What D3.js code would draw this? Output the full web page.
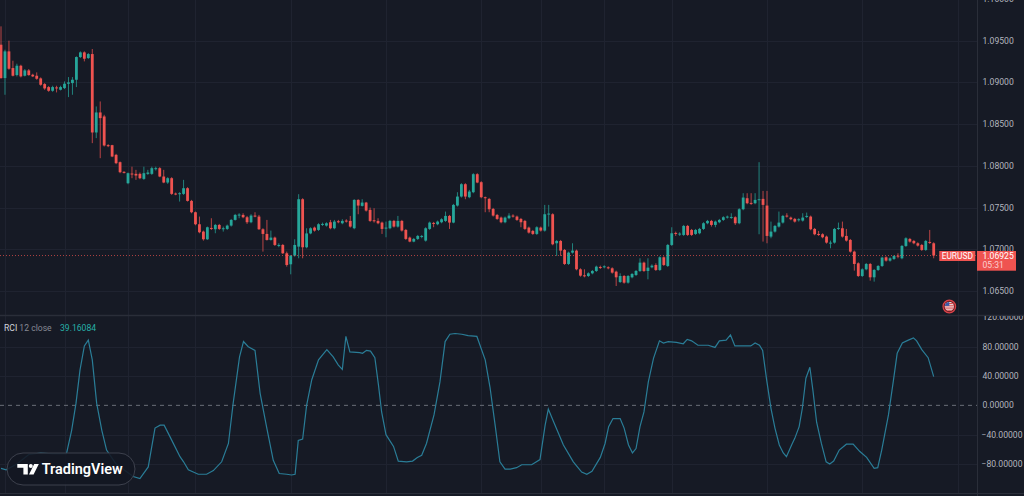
<!DOCTYPE html>
<html>
<head>
<meta charset="utf-8">
<script src="https://cdn.jsdelivr.net/npm/d3@7"></script>
<style>
  html, body { margin: 0; padding: 0; background: #161a25; overflow: hidden; }
  svg { display: block; font-family: Roboto, "Open Sans", sans-serif; }
</style>
</head>
<body>
<svg width="1024" height="496"></svg>
<script>
// EURUSD 1h candles (index 0 = leftmost bar)
var open = [
  1.09452,1.09052,1.09372,1.09172,1.09088,1.092,1.0908,1.09144,1.09092,1.0908,
  1.09048,1.0898,1.08944,1.089,1.0894,1.08912,1.08932,1.08984,1.08992,1.09032,
  1.09304,1.0936,1.09292,1.0934,1.084,1.0864,1.08592,1.08248,1.08248,1.08132,
  1.08044,1.07928,1.07792,1.07908,1.07904,1.07904,1.07844,1.07904,1.07904,1.0796,
  1.07972,1.07872,1.078,1.07852,1.07668,1.0766,1.07664,1.07732,1.0758,1.07444,
  1.073,1.07212,1.0712,1.07256,1.0724,1.07292,1.0724,1.07244,1.07284,1.07352,
  1.07404,1.07412,1.07384,1.07324,1.07404,1.07392,1.0724,1.07184,1.07112,1.0714,
  1.0704,1.07052,1.06952,1.0682,1.06924,1.07032,1.076,1.07024,1.0719,1.0726,
  1.07232,1.07292,1.07284,1.07324,1.07252,1.07336,1.07312,1.07344,1.0734,1.07252,
  1.07592,1.0752,1.0756,1.07472,1.07348,1.0734,1.0732,1.07248,1.07252,1.0734,
  1.07272,1.0734,1.07232,1.0714,1.07092,1.07124,1.07148,1.07104,1.07244,1.07316,
  1.073,1.07324,1.0734,1.074,1.0732,1.07524,1.07632,1.0778,1.07624,1.07684,
  1.079,1.07804,1.07624,1.07604,1.07484,1.07412,1.0738,1.07324,1.07372,1.07404,
  1.07392,1.07364,1.0734,1.0726,1.0722,1.07184,1.0726,1.07224,1.07416,1.0742,
  1.07072,1.071,1.06992,1.06824,1.0696,1.06984,1.0676,1.06688,1.0668,1.06712,
  1.0674,1.06788,1.06784,1.06784,1.06772,1.06732,1.06608,1.0668,1.066,1.06664,
  1.06692,1.0674,1.0684,1.0674,1.06784,1.06812,1.06752,1.06904,1.068,1.07052,
  1.07196,1.07176,1.07172,1.0728,1.07232,1.07184,1.07192,1.07244,1.07312,1.0734,
  1.07292,1.07324,1.07352,1.0738,1.07376,1.07384,1.07312,1.0748,1.07612,1.07556,
  1.07552,1.07588,1.07604,1.07524,1.07152,1.07212,1.07272,1.0732,1.07404,1.0738,
  1.07364,1.07348,1.07344,1.07388,1.07392,1.07244,1.07184,1.0718,1.07152,1.07068,
  1.0708,1.07244,1.07252,1.0716,1.07112,1.06972,1.06832,1.0668,1.0676,1.06824,
  1.06664,1.06752,1.068,1.06904,1.06864,1.06884,1.06924,1.06892,1.0704,1.07124,
  1.071,1.07072,1.07052,1.06992,1.07088,1.07072
];
var high = [
  1.09672,1.09392,1.0950,1.0926,1.09224,1.09212,1.0916,1.0916,1.09104,1.0912,
  1.0906,1.08992,1.08956,1.0896,1.0896,1.0896,1.09012,1.09064,1.09064,1.09312,
  1.09372,1.09372,1.09352,1.094,1.08712,1.08772,1.08612,1.0826,1.08252,1.08144,
  1.08052,1.07936,1.0792,1.0799,1.07952,1.0792,1.0799,1.07952,1.0799,1.0799,
  1.07984,1.07952,1.07864,1.07864,1.0768,1.07684,1.07832,1.07744,1.07592,1.07452,
  1.07392,1.07224,1.07272,1.07372,1.07304,1.07304,1.07272,1.07296,1.07364,1.07424,
  1.07432,1.07432,1.074,1.0742,1.07444,1.07412,1.07252,1.07352,1.07224,1.07152,
  1.07072,1.07064,1.06972,1.06932,1.0712,1.0766,1.07612,1.07252,1.07264,1.07272,
  1.07312,1.0732,1.07324,1.07352,1.07352,1.07352,1.0736,1.0736,1.074,1.076,
  1.076,1.076,1.07568,1.075,1.07492,1.07372,1.07332,1.07332,1.07352,1.07352,
  1.074,1.07352,1.07244,1.07152,1.07136,1.07172,1.07172,1.07264,1.07332,1.07328,
  1.07344,1.07372,1.07452,1.07412,1.07544,1.07684,1.07792,1.07792,1.07712,1.07912,
  1.07912,1.07816,1.07632,1.07616,1.07496,1.07424,1.07392,1.07392,1.07432,1.0742,
  1.07404,1.07376,1.07352,1.07272,1.07232,1.07276,1.07272,1.07532,1.07532,1.07432,
  1.07112,1.07112,1.07004,1.06972,1.07072,1.06996,1.06772,1.0676,1.06724,1.06752,
  1.06804,1.06804,1.06808,1.06796,1.06784,1.06744,1.06712,1.06692,1.06692,1.06716,
  1.06752,1.06892,1.06852,1.06892,1.0682,1.06832,1.06916,1.06916,1.07064,1.07264,
  1.07212,1.07204,1.07292,1.07292,1.07244,1.07244,1.07256,1.07324,1.07352,1.07352,
  1.07344,1.07364,1.07396,1.07404,1.07432,1.07396,1.07492,1.07672,1.07672,1.07672,
  1.07672,1.08044,1.077,1.077,1.07332,1.07292,1.07452,1.07412,1.07432,1.07392,
  1.07376,1.07372,1.07432,1.0744,1.07404,1.07256,1.0722,1.07192,1.07164,1.07104,
  1.07256,1.0732,1.07332,1.07244,1.07124,1.06984,1.06844,1.06772,1.06836,1.06836,
  1.06764,1.06812,1.06912,1.06916,1.06904,1.06932,1.06952,1.07052,1.07144,1.07136,
  1.07112,1.07084,1.07064,1.07112,1.07232,1.07084
];
var low = [
  1.09044,1.08852,1.09152,1.09072,1.09072,1.0906,1.09072,1.0908,1.09064,1.09032,
  1.0896,1.08912,1.08888,1.08888,1.0888,1.08904,1.0892,1.08824,1.08852,1.08944,
  1.09292,1.09252,1.0928,1.08272,1.08332,1.08092,1.08232,1.08224,1.08104,1.0802,
  1.07912,1.07908,1.0778,1.07852,1.07832,1.0784,1.07832,1.07892,1.07892,1.07944,
  1.07864,1.07792,1.07784,1.07652,1.07648,1.07572,1.07652,1.07572,1.07432,1.07288,
  1.07192,1.07104,1.07112,1.07232,1.07192,1.07232,1.07212,1.07232,1.07272,1.07344,
  1.07372,1.07372,1.07304,1.07312,1.07384,1.07232,1.06972,1.07104,1.07104,1.0704,
  1.07024,1.06944,1.06792,1.067,1.06912,1.06892,1.06892,1.07012,1.0718,1.07212,
  1.0722,1.0728,1.07272,1.0724,1.0724,1.07312,1.073,1.0732,1.0726,1.0724,
  1.0742,1.07512,1.07452,1.07328,1.0732,1.073,1.07184,1.07144,1.0724,1.0726,
  1.0726,1.07212,1.07112,1.07084,1.07084,1.07112,1.07132,1.07092,1.07232,1.07264,
  1.07288,1.07312,1.07328,1.07244,1.07312,1.07512,1.0762,1.076,1.07612,1.07672,
  1.07792,1.07612,1.07444,1.07444,1.07392,1.07352,1.07312,1.07312,1.0736,1.0738,
  1.0734,1.07264,1.07232,1.07188,1.07172,1.07172,1.07212,1.07212,1.07272,1.07048,
  1.0692,1.0692,1.06812,1.06812,1.06948,1.06748,1.06672,1.06664,1.06668,1.067,
  1.06728,1.06764,1.06772,1.0676,1.06708,1.0656,1.06596,1.06588,1.06588,1.06652,
  1.0668,1.06728,1.06728,1.0664,1.06772,1.0674,1.0674,1.068,1.06788,1.0704,
  1.0716,1.0716,1.0716,1.0716,1.0716,1.07172,1.0718,1.07232,1.073,1.07272,
  1.07264,1.07312,1.0734,1.07368,1.07364,1.07292,1.073,1.07468,1.0754,1.07532,
  1.0754,1.0718,1.07092,1.07072,1.07132,1.072,1.0726,1.07308,1.0738,1.07348,
  1.0732,1.07332,1.07332,1.07376,1.07228,1.07168,1.0716,1.07132,1.07068,1.07012,
  1.07068,1.07232,1.0714,1.07092,1.0696,1.06744,1.06668,1.06668,1.06748,1.06624,
  1.06612,1.0674,1.06788,1.06852,1.06852,1.06872,1.06892,1.0688,1.07028,1.0708,
  1.0706,1.07032,1.0698,1.0698,1.07064,1.06892
];
var close = [
  1.09052,1.09372,1.09164,1.0908,1.092,1.09072,1.09144,1.09088,1.09072,1.09044,
  1.08972,1.08928,1.089,1.08944,1.08928,1.08944,1.08984,1.09,1.09032,1.09304,
  1.0936,1.09284,1.0934,1.084,1.0864,1.08572,1.08244,1.08236,1.08112,1.08032,
  1.07924,1.07916,1.07912,1.07896,1.07884,1.07852,1.07912,1.0792,1.07972,1.07972,
  1.07872,1.078,1.07852,1.07664,1.07656,1.07672,1.07732,1.0758,1.07444,1.073,
  1.07204,1.0712,1.07264,1.07244,1.07292,1.07244,1.07252,1.07284,1.07352,1.07412,
  1.07416,1.07384,1.07324,1.07404,1.07392,1.0724,1.07184,1.07112,1.0714,1.07052,
  1.07052,1.06952,1.06812,1.06924,1.07052,1.076,1.07024,1.0719,1.07252,1.07224,
  1.073,1.07304,1.07312,1.07252,1.07332,1.07324,1.0734,1.07332,1.07272,1.07592,
  1.07524,1.0756,1.07464,1.0734,1.07336,1.07312,1.07244,1.0726,1.0734,1.07272,
  1.0734,1.07224,1.07124,1.07092,1.07124,1.0716,1.0716,1.07252,1.0732,1.07304,
  1.07332,1.0736,1.074,1.0732,1.07532,1.07632,1.0778,1.07632,1.07692,1.079,
  1.078,1.07624,1.07612,1.0748,1.07404,1.07364,1.07324,1.0738,1.07404,1.07392,
  1.07352,1.07324,1.07244,1.072,1.07184,1.07264,1.07224,1.0742,1.07428,1.0706,
  1.071,1.06984,1.06824,1.0696,1.06984,1.0676,1.06684,1.06676,1.06712,1.0674,
  1.06792,1.06776,1.06796,1.06772,1.0672,1.06664,1.0668,1.066,1.0668,1.06704,
  1.0674,1.0684,1.0674,1.0678,1.06804,1.06752,1.06904,1.06812,1.07052,1.07192,
  1.07184,1.07188,1.0728,1.07172,1.07172,1.07232,1.07244,1.07312,1.0734,1.07292,
  1.07332,1.07352,1.07384,1.07392,1.07388,1.07312,1.0748,1.0762,1.07552,1.07544,
  1.07592,1.076,1.07532,1.0716,1.07212,1.0728,1.0732,1.074,1.07392,1.0736,
  1.07332,1.0736,1.0738,1.074,1.0724,1.0718,1.07172,1.07144,1.0708,1.0708,
  1.07244,1.07256,1.07152,1.07104,1.06972,1.06824,1.0668,1.0676,1.06824,1.06664,
  1.06752,1.068,1.069,1.06864,1.06892,1.0692,1.06912,1.0704,1.07132,1.07092,
  1.07072,1.07044,1.06992,1.071,1.07076,1.06925
];

// RCI(12) line, vertices: bar position and value
var rciBar = [0,1.3,4,7,10,13,16.5,17.8,18.9,19.9,21,22,23,24.1,25.4,26.6,29,33.3,35,37.1,38.8,
  40.1,41.1,42.6,45.1,46,47.2,49.7,51.8,53.5,55.6,57.3,58.5,60.1,61.1,62.3,64,65.3,66.9,68.6,70.1,
  72,73.2,74.1,74.9,76,77,78.3,80,82.1,83.7,85,86,86.9,87.9,90.4,91.1,92.1,93.1,94.2,95.1,
  95.9,97,98.9,100.1,102.2,103.7,104.9,106,107.2,109.1,110.6,111.9,113.1,114.4,116.1,117.7,119.9,122,123.2,124.5,
  125.7,127,128.3,129.9,131.2,133.7,135.8,137.1,137.9,139.2,141.7,144.2,146.3,147.6,148.9,151,152.2,153.1,154.2,156,
  157,158.1,159.1,160,161,162,163.1,164.4,165.9,166.9,168.1,170.2,171.9,172.9,174,175.6,178.2,179.9,181,182.7,
  183.8,184.9,186.6,188.9,190,191.1,191.9,192.9,194,195,196.1,197.1,197.9,199.2,200,201.1,201.9,202.8,203.8,204.6,
  205.5,206.7,207.9,208.8,209.8,211.2,213,214.7,216.4,218.1,220,220.9,221.9,223.6,224.8,225.8,227.1,228.6,229.9,230.7,
  232,233.6,235];
var rciVal = [-86,-88,-80,-67,-65,-66,-66,-34,3,48,81,89,62,3,-34,-61,-80,-97,-100,-84,-31,
  -27,-27,-43,-70,-77,-88,-94,-94,-89,-77,-52,3,66,87,80,75,16,-29,-75,-93,
  -94,-95,-94,-48,-46,0,35,62,76,66,55,49,94,73,72,71,75,74,65,28,
  -9,-40,-56,-76,-77,-76,-71,-68,-52,-13,32,87,97,98,97,95,94,62,25,-27,
  -77,-87,-87,-85,-81,-81,-74,-27,-5,-22,-54,-77,-91,-94,-90,-71,-52,-29,-18,-18,
  -31,-54,-65,-59,-29,-9,32,64,88,85,87,86,84,90,88,82,82,79,88,89,
  96,81,81,81,85,82,75,35,-4,-31,-54,-65,-70,-54,-45,-29,-4,37,52,19,
  -23,-52,-77,-80,-76,-61,-53,-53,-63,-71,-86,-85,-61,-13,32,71,85,89,92,88,
  76,65,39.16084];

var priceTicks = [1.065, 1.07, 1.075, 1.08, 1.085, 1.09, 1.095, 1.10];
var rciTicks = [-80, -40, 0, 40, 80, 120];
var timeGridBars = [1, 16, 32, 49, 73, 97, 121, 136, 152, 169, 193, 217, 241];
var lastPrice = 1.06925, countdown = "05:31", symbol = "EURUSD";

var svg = d3.select("svg"),
    width = +svg.attr("width"),
    height = +svg.attr("height"),
    axisX = 977,
    upColor = "#26a69a",
    downColor = "#ef5350",
    gridColor = "#1f2330",
    textColor = "#b2b5be";

var x = d3.scaleLinear().domain([0, 235]).range([1, 933.7]),
    y = d3.scaleLinear().domain([1.065, 1.095]).range([291, 40.7]),
    yr = d3.scaleLinear().domain([-80, 80]).range([464, 346.7]);

svg.append("rect").attr("width", width).attr("height", height).attr("fill", "#161a25");

var defs = svg.append("defs");
defs.append("clipPath").attr("id", "pricePane").append("rect")
  .attr("x", 0).attr("y", 0).attr("width", axisX).attr("height", 315);
defs.append("clipPath").attr("id", "priceAxis").append("rect")
  .attr("x", axisX).attr("y", 0).attr("width", width - axisX).attr("height", 315);
defs.append("clipPath").attr("id", "rciPane").append("rect")
  .attr("x", 0).attr("y", 316).attr("width", axisX).attr("height", 177);
defs.append("clipPath").attr("id", "rciAxis").append("rect")
  .attr("x", axisX).attr("y", 316).attr("width", width - axisX).attr("height", 177);

// grid
var grid = svg.append("g").attr("stroke", gridColor).attr("stroke-width", 1);
grid.selectAll(".vgrid").data(timeGridBars).enter().append("line")
  .attr("x1", function(d) { return Math.round(x(d)) + 0.5; })
  .attr("x2", function(d) { return Math.round(x(d)) + 0.5; })
  .attr("y1", 0).attr("y2", 493);
grid.selectAll(".hgrid").data(priceTicks).enter().append("line")
  .attr("x1", 0).attr("x2", axisX)
  .attr("y1", function(d) { return Math.round(y(d)) + 0.5; })
  .attr("y2", function(d) { return Math.round(y(d)) + 0.5; });
grid.selectAll(".rgrid").data(rciTicks.filter(function(d) { return d !== 0 && d !== 120; })).enter().append("line")
  .attr("x1", 0).attr("x2", axisX)
  .attr("y1", function(d) { return Math.round(yr(d)) + 0.5; })
  .attr("y2", function(d) { return Math.round(yr(d)) + 0.5; });

// pane separators and axis border
svg.append("line").attr("x1", 0).attr("x2", width).attr("y1", 315.5).attr("y2", 315.5)
  .attr("stroke", "#2a2e39").attr("stroke-width", 1.5);
svg.append("line").attr("x1", 0).attr("x2", width).attr("y1", 493.5).attr("y2", 493.5)
  .attr("stroke", "#2a2e39");
svg.append("line").attr("x1", axisX + 0.5).attr("x2", axisX + 0.5).attr("y1", 0).attr("y2", height)
  .attr("stroke", "#2a2e39");

// candles
var bars = d3.range(open.length);
var candles = svg.append("g").attr("clip-path", "url(#pricePane)");
var candle = candles.selectAll(".candle").data(bars).enter().append("g").attr("class", "candle");
candle.append("line")
  .attr("x1", function(i) { return x(i); }).attr("x2", function(i) { return x(i); })
  .attr("y1", function(i) { return y(high[i]); }).attr("y2", function(i) { return y(low[i]); })
  .attr("stroke", function(i) { return close[i] >= open[i] ? upColor : downColor; })
  .attr("stroke-opacity", 0.75).attr("stroke-width", 1);
candle.append("rect")
  .attr("x", function(i) { return x(i) - 1.4; })
  .attr("width", 2.8)
  .attr("y", function(i) { return y(Math.max(open[i], close[i])); })
  .attr("height", function(i) { return Math.max(1, Math.abs(y(open[i]) - y(close[i]))); })
  .attr("fill", function(i) { return close[i] >= open[i] ? upColor : downColor; });

// last price line
svg.append("line").attr("x1", 0).attr("x2", axisX)
  .attr("y1", y(lastPrice)).attr("y2", y(lastPrice))
  .attr("stroke", downColor).attr("stroke-opacity", 0.7).attr("stroke-dasharray", "1,2");

// price axis labels
svg.append("g").attr("clip-path", "url(#priceAxis)")
  .selectAll("text").data(priceTicks).enter().append("text")
  .attr("x", 982.5).attr("y", function(d) { return y(d); })
  .attr("dy", "0.35em").attr("font-size", 8.6).attr("fill", textColor)
  .text(function(d) { return d3.format(".5f")(d); });

// last price labels
var ly = y(lastPrice);
svg.append("rect").attr("x", 939.3).attr("y", 251).attr("width", 36).attr("height", 10)
  .attr("fill", downColor);
svg.append("text").attr("x", 957.3).attr("y", 256).attr("dy", "0.35em")
  .attr("text-anchor", "middle").attr("font-size", 8.4).attr("fill", "#ffffff").text(symbol);
svg.append("rect").attr("x", axisX).attr("y", 251).attr("width", 39).attr("height", 19.7)
  .attr("fill", downColor);
svg.append("text").attr("x", 982.5).attr("y", ly).attr("dy", "0.35em")
  .attr("font-size", 8.6).attr("fill", "#ffffff").text(d3.format(".5f")(lastPrice));
svg.append("text").attr("x", 982.5).attr("y", 265).attr("dy", "0.35em")
  .attr("font-size", 8.6).attr("fill", "#fbd0d0").text(countdown);

// economic event flag
var flag = svg.append("g").attr("transform", "translate(949.3,306.5)");
flag.append("circle").attr("r", 6.3).attr("fill", "#7a1f24").attr("stroke", "#d9434a").attr("stroke-width", 1.2);
flag.append("clipPath").attr("id", "flagClip").append("circle").attr("r", 4.6);
var fl = flag.append("g").attr("clip-path", "url(#flagClip)");
fl.append("rect").attr("x", -5).attr("y", -5).attr("width", 10).attr("height", 10).attr("fill", "#f4f4f4");
[-3.4, -1.2, 1, 3.2].forEach(function(s) {
  fl.append("rect").attr("x", -5).attr("y", s).attr("width", 10).attr("height", 1.1).attr("fill", "#d63a3f");
});
fl.append("rect").attr("x", -5).attr("y", -5).attr("width", 5).attr("height", 4.4).attr("fill", "#3b5aa8");

// RCI pane
var rciPane = svg.append("g").attr("clip-path", "url(#rciPane)");
rciPane.append("line").attr("x1", 0).attr("x2", axisX)
  .attr("y1", yr(0)).attr("y2", yr(0))
  .attr("stroke", "#6a6d78").attr("stroke-dasharray", "4,4").attr("stroke-width", 1);
var rciLine = d3.line()
  .x(function(d, i) { return x(rciBar[i]); })
  .y(function(d) { return yr(d); });
rciPane.append("path").datum(rciVal).attr("d", rciLine)
  .attr("fill", "none").attr("stroke", "#2a7d97").attr("stroke-width", 1.2);

svg.append("g").attr("clip-path", "url(#rciAxis)")
  .selectAll("text").data(rciTicks).enter().append("text")
  .attr("x", function(d) { return d < 0 ? 981.5 : 982.5; })
  .attr("y", function(d) { return yr(d); })
  .attr("dy", "0.35em").attr("font-size", 8.6).attr("fill", textColor)
  .text(function(d) { return d3.format(".5f")(d); });

// RCI legend
var legend = svg.append("text").attr("x", 4).attr("y", 327.5).attr("dy", "0.35em").attr("font-size", 8.6);
legend.append("tspan").attr("fill", "#d1d4dc").text("RCI");
legend.append("tspan").attr("fill", "#868993").text(" 12 close");
svg.append("text").attr("x", 60).attr("y", 327.5).attr("dy", "0.35em").attr("font-size", 8.6)
  .attr("fill", "#26b0a8").text(d3.format(".5f")(rciVal[rciVal.length - 1]));

// TradingView watermark
var tv = svg.append("g");
tv.append("rect").attr("x", 7).attr("y", 453).attr("width", 128).attr("height", 32).attr("rx", 16)
  .attr("fill", "#131722").attr("fill-opacity", 0.88).attr("stroke", "#3d414d").attr("stroke-width", 1);
tv.append("path").attr("d", "M17.3,464 H27.8 V474.5 H23.4 V467.8 H17.3 Z").attr("fill", "#ffffff");
tv.append("circle").attr("cx", 30.8).attr("cy", 466).attr("r", 2).attr("fill", "#ffffff");
tv.append("path").attr("d", "M34.2,464 H38.8 L33.6,474.5 H29 Z").attr("fill", "#ffffff");
tv.append("text").attr("x", 41.7).attr("y", 474.3).attr("font-size", 14).attr("font-weight", 600)
  .attr("fill", "#ffffff").attr("textLength", 81).attr("lengthAdjust", "spacingAndGlyphs")
  .text("TradingView");
</script>
</body>
</html>
